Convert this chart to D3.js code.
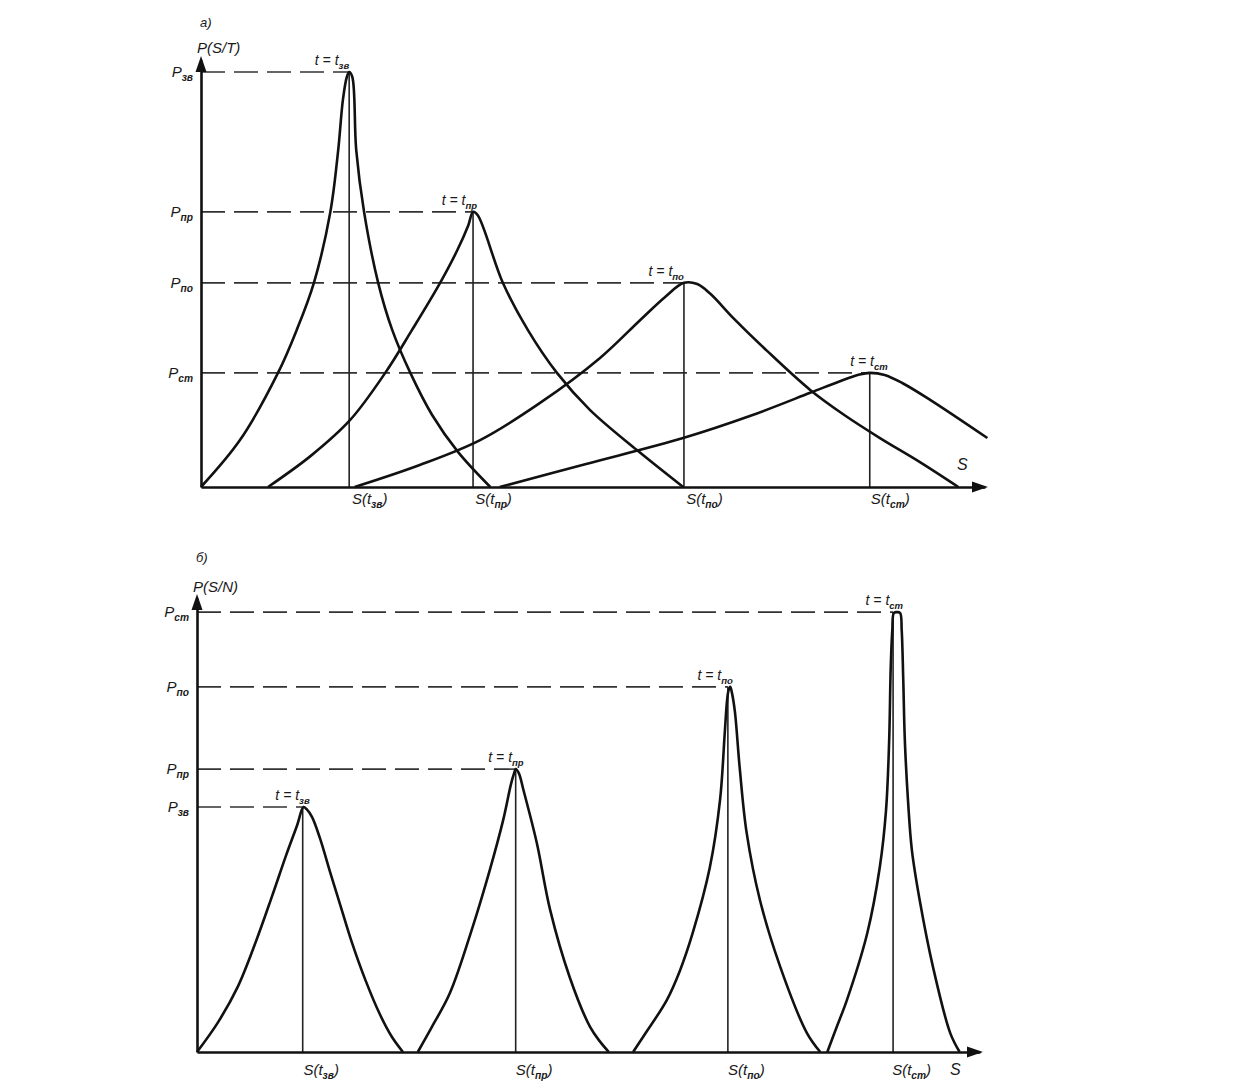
<!DOCTYPE html>
<html><head><meta charset="utf-8">
<script src="https://cdn.jsdelivr.net/npm/d3@7"></script>
<style>
body{margin:0;background:#fff}
text{font-family:"Liberation Sans",Arial,sans-serif;font-style:italic;fill:#1a1a1a}
</style>
</head><body>
<svg id="chart" width="1236" height="1090"></svg>
<script>
// ---------- DATA ----------
const regimeSubs = ["зв", "пр", "по", "ст"];

// Panel а: P(S/T)
const aPeakS = [18.9, 34.7, 61.6, 85.3];
const aPeakP = [100, 66.3, 49.2, 27.5];
const aCurveZv = [[0,0],[4.97,11.3],[9.82,27.5],[12.2,37.8],[14.4,49.2],[16.5,66.3],[17.5,81.2],[18.1,93.3],[18.6,98.8],[18.9,100],[19.3,98.8],[19.8,81.2],[20.8,66.3],[22.6,49.2],[24.4,37.8],[26.7,27.5],[29.5,17.3],[32.8,8.4],[36.9,0]];
const aCurvePr = [[8.55,0],[14.0,7.5],[19.0,16.1],[23.5,27.5],[26.9,37.8],[30.5,49.2],[32.7,57.1],[34.1,63.1],[34.7,66.3],[35.3,65.5],[38.5,49.2],[41.7,37.8],[45.4,27.5],[49.6,18.6],[55.6,8.9],[61.5,0]];
const aCurvePo = [[19.6,0],[27.9,5.3],[35.6,11.3],[43.2,20.2],[50.9,31.1],[56.0,40.2],[59.2,45.8],[61.6,49.2],[63.3,48.9],[65.0,46.5],[67.9,40.7],[72.2,32.8],[77.7,23.4],[82.1,17.3],[86.6,11.8],[91.7,6.0],[96.6,0]];
const aCurveSt = [[38.1,0],[49.0,5.5],[61.5,11.8],[70.0,17.1],[77.7,22.7],[81.5,25.5],[84.0,27.1],[85.3,27.5],[87.2,27.0],[89.5,25.0],[93.0,21.0],[100.3,11.8]];

// Panel б: P(S/N)
const bPeakS = [13.5, 40.7, 67.8, 88.9];
const bPeakP = [55.7, 64.3, 83.0, 100];
const bCurveZv = [[0,0],[2.7,6.8],[5.2,14.8],[7.5,25.0],[9.6,35.5],[11.4,44.8],[12.8,51.6],[13.6,55.7],[14.0,55.2],[14.7,53.4],[15.7,48.6],[17.0,40.9],[18.3,33.4],[19.8,24.8],[21.5,16.4],[23.4,8.4],[24.9,3.4],[26.3,0]];
const bCurvePr = [[28.2,0],[30.0,5.7],[32.3,13.4],[35.2,28.4],[37.4,41.4],[39.1,52.7],[40.1,60.9],[40.5,63.4],[40.7,64.3],[41.1,63.4],[41.7,59.5],[43.4,47.5],[45.1,32.3],[47.6,17.0],[50.2,5.7],[51.5,2.3],[52.6,0]];
const bCurvePo = [[55.7,0],[57.3,4.3],[60.0,11.8],[61.7,18.6],[63.3,27.0],[65.5,42.0],[66.8,57.3],[67.4,72.5],[67.7,80.0],[67.9,82.3],[68.1,83.0],[68.3,81.8],[68.7,77.3],[69.3,64.8],[70.2,49.8],[71.9,34.5],[74.5,19.3],[77.9,4.3],[79.6,0]];
const bCurveSt = [[80.5,0],[81.7,5.7],[83.0,11.8],[85.6,27.0],[87.2,42.0],[88.0,55.0],[88.4,70.9],[88.6,87.5],[88.8,95.9],[89.0,99.8],[89.4,100],[89.8,99.8],[90.0,95.9],[90.2,84.5],[90.4,70.9],[90.8,57.3],[91.3,45.9],[92.3,34.5],[94.0,19.3],[96.2,4.3],[97.4,0]];

// ---------- DRAWING ----------
const svg = d3.select("#chart");

function subLabel(sel, main, sub, tail, fs) {
  sel.text(null);
  sel.append("tspan").text(main);
  sel.append("tspan").attr("dy", 4).attr("font-size", fs * 0.68).attr("font-weight", "bold").text(sub);
  if (tail) sel.append("tspan").attr("dy", -4).text(tail);
}

function panel(cfg) {
  const x = d3.scaleLinear().domain([0, 100]).range(cfg.xRange);
  const y = d3.scaleLinear().domain([0, cfg.yMax]).range(cfg.yRange);
  const g = svg.append("g");
  const y0 = y(0), x0 = x(0);

  g.selectAll(".dash").data(cfg.peakS).join("line")
    .attr("x1", x0).attr("x2", d => x(d))
    .attr("y1", (d, i) => y(cfg.peakP[i])).attr("y2", (d, i) => y(cfg.peakP[i]))
    .attr("stroke", "#333").attr("stroke-width", 1.6).attr("stroke-dasharray", "24,9");

  g.selectAll(".vl").data(cfg.peakS).join("line")
    .attr("x1", d => x(d)).attr("x2", d => x(d))
    .attr("y1", y0).attr("y2", (d, i) => y(cfg.peakP[i]))
    .attr("stroke", "#222").attr("stroke-width", 1.6);

  const line = d3.line().x(d => x(d[0])).y(d => y(d[1])).curve(d3.curveCatmullRom.alpha(0.5));
  g.selectAll(".curve").data(cfg.curves).join("path")
    .attr("d", line).attr("fill", "none")
    .attr("stroke", "#111").attr("stroke-width", 2.6).attr("stroke-linejoin", "round");

  const xAxis = d3.axisBottom(x).tickValues(cfg.peakS).tickSize(0).tickSizeOuter(0).tickPadding(cfg.xPad);
  const gx = g.append("g").attr("transform", `translate(0,${y0})`).call(xAxis);
  gx.select(".domain").attr("stroke", "#111").attr("stroke-width", 2.6);
  gx.selectAll(".tick text").attr("font-size", 15).attr("dx", cfg.xDx)
    .each(function(d, i) { subLabel(d3.select(this), "S(t", regimeSubs[i], ")", 15); });

  const yAxis = d3.axisLeft(y).tickValues(cfg.peakP).tickSize(0).tickSizeOuter(0).tickPadding(8);
  const gy = g.append("g").attr("transform", `translate(${x0},0)`).call(yAxis);
  gy.select(".domain").attr("stroke", "#111").attr("stroke-width", 2.6);
  gy.selectAll(".tick text").attr("font-size", 15)
    .each(function(d, i) { subLabel(d3.select(this), "P", regimeSubs[i], null, 15); });

  const yTop = y(cfg.yMax);
  g.append("path").attr("d", `M${x0},${yTop - 4}L${x0 - 5.5},${yTop + 12}L${x0 + 5.5},${yTop + 12}Z`).attr("fill", "#111");
  const xEnd = x(100);
  g.append("path").attr("d", `M${xEnd + 3},${y0}L${xEnd - 13},${y0 - 5.5}L${xEnd - 13},${y0 + 5.5}Z`).attr("fill", "#111");

  g.selectAll(".pl").data(cfg.peakS).join("text")
    .attr("x", (d, i) => x(d) + cfg.peakDx[i]).attr("y", (d, i) => y(cfg.peakP[i]) - 7)
    .attr("text-anchor", "end").attr("font-size", 14)
    .each(function(d, i) { subLabel(d3.select(this), "t = t", regimeSubs[i], null, 14); });

  g.append("text").attr("x", x0 - 1).attr("y", cfg.letterY).attr("font-size", 13).text(cfg.letter);
  g.append("text").attr("x", x0 - 4).attr("y", cfg.nameY).attr("font-size", 15).text(cfg.name);
  g.append("text").attr("x", cfg.sLabel[0]).attr("y", cfg.sLabel[1]).attr("font-size", 16).text("S");
}

panel({
  xRange: [201, 985], yRange: [487, 60], yMax: 102.9,
  peakS: aPeakS, peakP: aPeakP,
  curves: [aCurveZv, aCurvePr, aCurvePo, aCurveSt],
  xPad: 6, xDx: 20, peakDx: [0, 4, 0, 18],
  letter: "а)", letterY: 27, name: "P(S/T)", nameY: 53,
  sLabel: [957, 470]
});

panel({
  xRange: [197, 980], yRange: [1052, 598], yMax: 103.2,
  peakS: bPeakS, peakP: bPeakP,
  curves: [bCurveZv, bCurvePr, bCurvePo, bCurveSt],
  xPad: 12, xDx: 18, peakDx: [7, 8, 5, 10],
  letter: "б)", letterY: 562, name: "P(S/N)", nameY: 592,
  sLabel: [950, 1075]
});
</script>
</body></html>
